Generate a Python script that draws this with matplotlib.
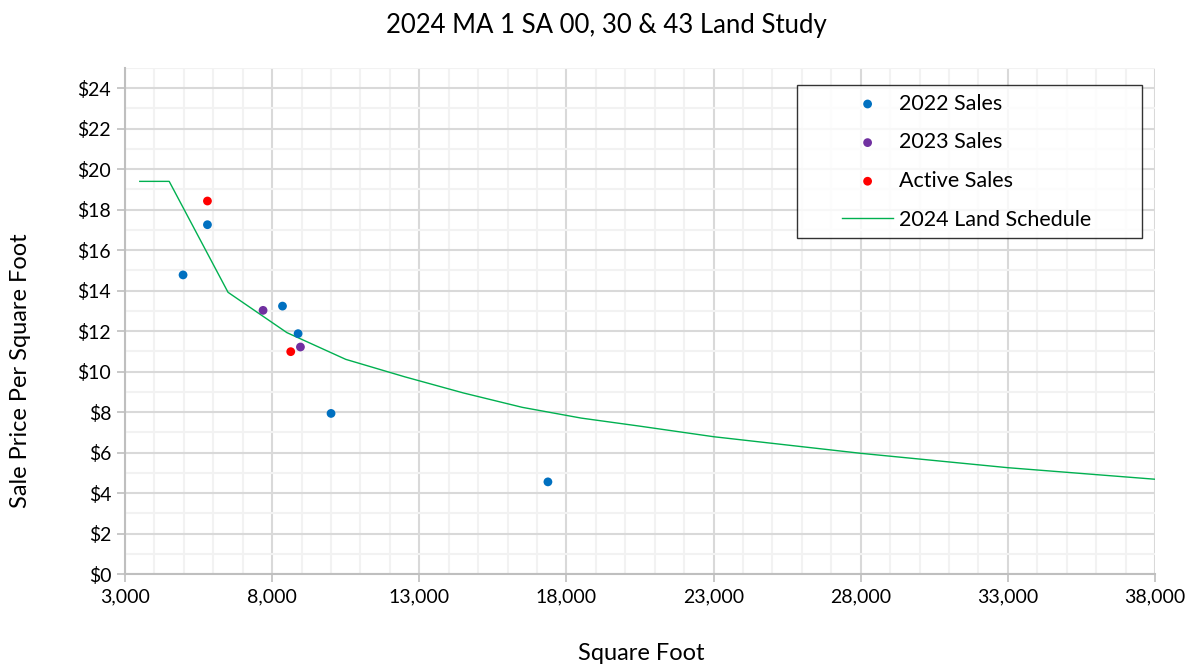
import matplotlib
matplotlib.use('Agg')
import matplotlib.pyplot as plt
from matplotlib.ticker import MultipleLocator, FuncFormatter
from matplotlib.legend_handler import HandlerLine2D, HandlerPathCollection
from matplotlib.lines import Line2D
from matplotlib.collections import PathCollection

plt.rcParams['font.family'] = ['Lato', 'DejaVu Sans']

# data
sales_2022_sf = [4971, 5800, 8350, 8880, 10000, 17370]
sales_2022_pp = [14.77, 17.25, 13.23, 11.87, 7.93, 4.55]
sales_2023_sf = [7690, 8960]
sales_2023_pp = [13.02, 11.21]
active_sf = [5800, 8630]
active_pp = [18.42, 10.98]
sched_sf = [3500, 4500, 6500, 8500, 10500, 12500, 14500, 16500, 18500, 20500, 23000, 28000, 33000, 38000]
sched_pp = [19.39, 19.39, 13.91, 11.92, 10.60, 9.74, 8.94, 8.23, 7.70, 7.30, 6.78, 5.96, 5.25, 4.68]

fig = plt.figure(figsize=(11.99, 6.69), dpi=100)
ax = fig.add_axes([0.1043, 0.142, 0.859, 0.7567])

ax.plot(sched_sf, sched_pp, color='#00B050', lw=1.0, label='2024 Land Schedule', zorder=3)
ax.scatter(sales_2022_sf, sales_2022_pp, s=40, color='#0070C0', label='2022 Sales', zorder=4, edgecolors='none')
ax.scatter(sales_2023_sf, sales_2023_pp, s=40, color='#7030A0', label='2023 Sales', zorder=4, edgecolors='none')
ax.scatter(active_sf, active_pp, s=40, color='#FF0000', label='Active Sales', zorder=4, edgecolors='none')

ax.set_xlim(3000, 38000)
ax.set_ylim(0, 25)
ax.xaxis.set_minor_locator(MultipleLocator(1000))
ax.yaxis.set_major_locator(MultipleLocator(2))
ax.yaxis.set_minor_locator(MultipleLocator(1))
ax.set_xticks(range(3000, 38001, 5000))
ax.xaxis.set_major_formatter(FuncFormatter(lambda v, p: f'{int(v):,}'))
ax.yaxis.set_major_formatter(FuncFormatter(lambda v, p: f'${int(v)}'))

ax.grid(which='major', color='#D9D9D9', lw=1.5)
ax.grid(which='minor', color='#F2F2F2', lw=1.5)
ax.set_axisbelow(True)
for s in ['top', 'right']:
    ax.spines[s].set_visible(False)
for s in ['left', 'bottom']:
    ax.spines[s].set_color('#BFBFBF')
    ax.spines[s].set_linewidth(1.5)
ax.tick_params(which='major', length=6, width=1.2, color='#BFBFBF', labelsize=14, labelcolor='black', pad=4)
ax.tick_params(which='minor', length=0)

ax.set_xlabel('Square Foot', fontsize=17)
ax.set_ylabel('Sale Price Per Square Foot', fontsize=17)
ax.xaxis.set_label_coords(0.501, -0.136)
ax.yaxis.set_label_coords(-0.0913, 0.401)
fig.suptitle('2024 MA 1 SA 00, 30 & 43 Land Study', fontsize=18.5, x=0.506, y=0.980, va='top')

h, l = ax.get_legend_handles_labels()
order = [1, 2, 3, 0]
leg = ax.legend([h[i] for i in order], [l[i] for i in order], loc='upper left',
                bbox_to_anchor=(0.6524, 0.9659, 0.335, 0.0), mode='expand',
                fontsize=15.5, frameon=True, fancybox=False,
                borderpad=0.4, labelspacing=0.865, handlelength=4.07, handletextpad=0.28,
                borderaxespad=0, scatterpoints=1,
                handler_map={Line2D: HandlerLine2D(xpad=1.69),
                             PathCollection: HandlerPathCollection(xpad=1.69)})
leg.get_frame().set_edgecolor('black')
leg.get_frame().set_linewidth(1.0)

fig.savefig('out.png', dpi=100)
